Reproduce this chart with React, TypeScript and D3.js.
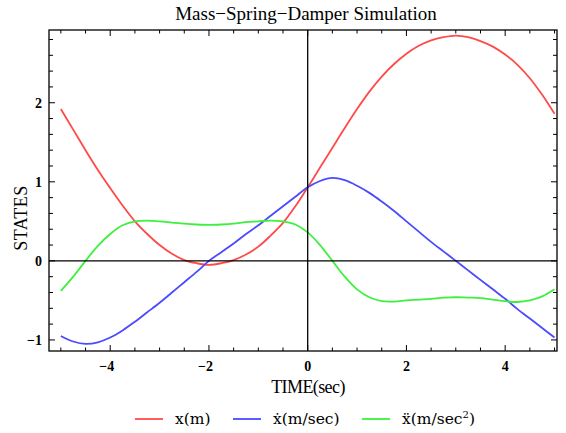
import { useEffect, useRef } from 'react'
import * as d3 from 'd3'

const W = 566
const H = 433

// plot frame in pixels
const M = { left: 49, right: 557, top: 30, bottom: 351 }

const TITLE = 'Mass\u2212Spring\u2212Damper Simulation'
const X_LABEL = 'TIME(sec)'
const Y_LABEL = 'STATES'

// time samples (sec)
const times = [
  -5, -4.75, -4.5, -4.25, -4, -3.75, -3.5, -3.25, -3, -2.75, -2.5, -2.25, -2, -1.75, -1.5, -1.25, -1, -0.75, -0.5, -0.25,
  0, 0.25, 0.5, 0.75, 1, 1.25, 1.5, 1.75, 2, 2.25, 2.5, 2.75, 3, 3.25, 3.5, 3.75, 4, 4.25, 4.5, 4.75, 5,
]

// x(m)
const position = [
  1.92, 1.66, 1.40, 1.15, 0.92, 0.70, 0.50, 0.34, 0.20, 0.09, 0.01, -0.03, -0.05, -0.03, 0.01, 0.08, 0.18, 0.32, 0.48, 0.69,
  0.93, 1.18, 1.43, 1.68, 1.92, 2.14, 2.33, 2.49, 2.62, 2.72, 2.79, 2.83, 2.85, 2.83, 2.78, 2.71, 2.61, 2.48, 2.31, 2.10, 1.86,
]

// xdot(m/sec)
const velocity = [
  -0.95, -1.02, -1.05, -1.03, -0.97, -0.88, -0.77, -0.65, -0.53, -0.40, -0.27, -0.14, 0.0, 0.11, 0.22, 0.34, 0.45, 0.57, 0.69, 0.81,
  0.93, 1.01, 1.05, 1.02, 0.95, 0.86, 0.75, 0.63, 0.50, 0.37, 0.24, 0.12, 0.0, -0.12, -0.24, -0.36, -0.48, -0.61, -0.73, -0.85, -0.97,
]

// xddot(m/sec^2)
const accel = [
  -0.38, -0.2, 0.0, 0.19, 0.34, 0.45, 0.50, 0.51, 0.50, 0.485, 0.47, 0.46, 0.455, 0.46, 0.47, 0.49, 0.50, 0.51, 0.50, 0.46,
  0.36, 0.2, 0.0, -0.2, -0.36, -0.46, -0.51, -0.515, -0.50, -0.49, -0.48, -0.465, -0.46, -0.465, -0.47, -0.49, -0.51, -0.52, -0.50, -0.45, -0.36,
]

const seriesNames = ['x(m)', '\u1E8B(m/sec)', '\u1E8D(m/sec']
const seriesColors = ['#ff4a4a', '#4a4aff', '#3ef03e']
const seriesValues = [position, velocity, accel]

const xMajor = [-4, -2, 0, 2, 4]
const yMajor = [-1, 0, 1, 2]

export default function App() {
  const svgRef = useRef<SVGSVGElement>(null)

  useEffect(() => {
    if (!svgRef.current) return
    const svg = d3.select(svgRef.current)
    svg.selectAll('*').remove()

    const x = d3.scaleLinear().domain([-5.24, 5.05]).range([M.left, M.right])
    const y = d3.scaleLinear().domain([-1.14, 2.92]).range([M.bottom, M.top])

    svg.append('rect').attr('width', W).attr('height', H).attr('fill', '#fff')

    // curves
    const line = d3.line<number>()
      .x((_, i) => x(times[i]))
      .y(d => y(d))
      .curve(d3.curveCatmullRom.alpha(0.5))

    seriesValues.forEach((vals, k) => {
      svg.append('path').attr('d', line(vals))
        .attr('fill', 'none').attr('stroke', seriesColors[k])
        .attr('stroke-width', 1.8).attr('stroke-linejoin', 'round')
    })

    // axes through origin
    svg.append('line').attr('x1', M.left).attr('x2', M.right)
      .attr('y1', y(0)).attr('y2', y(0)).attr('stroke', '#000').attr('stroke-width', 1.3)
    svg.append('line').attr('x1', x(0)).attr('x2', x(0))
      .attr('y1', M.top).attr('y2', M.bottom).attr('stroke', '#000').attr('stroke-width', 1.3)

    // frame
    svg.append('rect').attr('x', M.left).attr('y', M.top)
      .attr('width', M.right - M.left).attr('height', M.bottom - M.top)
      .attr('fill', 'none').attr('stroke', '#000').attr('stroke-width', 1.3)

    // ticks
    const tg = svg.append('g').attr('stroke', '#000').attr('stroke-width', 1)
    const xTicks = d3.range(-5, 5.01, 0.5)
    xTicks.forEach(t => {
      const len = xMajor.includes(t) ? 6 : 3.5
      const px = x(t)
      tg.append('line').attr('x1', px).attr('x2', px).attr('y1', M.bottom).attr('y2', M.bottom - len)
      tg.append('line').attr('x1', px).attr('x2', px).attr('y1', M.top).attr('y2', M.top + len)
    })
    const yTicks = d3.range(-1, 2.81, 0.2).map(v => Math.round(v * 10) / 10)
    yTicks.forEach(v => {
      const len = yMajor.includes(v) ? 6 : 4
      const py = y(v)
      tg.append('line').attr('x1', M.left).attr('x2', M.left + len).attr('y1', py).attr('y2', py)
      tg.append('line').attr('x1', M.right).attr('x2', M.right - len).attr('y1', py).attr('y2', py)
    })

    const fmt = (v: number) => (v < 0 ? '\u2212' + Math.abs(v) : String(v))
    const serif = '"Liberation Serif", "Times New Roman", serif'

    svg.append('g').selectAll('text').data(xMajor).join('text')
      .attr('x', d => x(d) - (d < 0 ? 3.5 : 0)).attr('y', 371)
      .attr('text-anchor', 'middle').attr('font-family', serif)
      .attr('font-size', 14).attr('font-weight', 'bold')
      .text(fmt)

    svg.append('g').selectAll('text').data(yMajor).join('text')
      .attr('x', 42).attr('y', d => y(d) + 5)
      .attr('text-anchor', 'end').attr('font-family', serif)
      .attr('font-size', 14).attr('font-weight', 'bold')
      .text(fmt)

    // title and axis labels
    svg.append('text').attr('x', 306).attr('y', 20)
      .attr('text-anchor', 'middle').attr('font-family', serif).attr('font-size', 19)
      .text(TITLE)

    svg.append('text').attr('x', 308).attr('y', 393)
      .attr('text-anchor', 'middle').attr('font-family', serif).attr('font-size', 18)
      .attr('letter-spacing', -0.6)
      .text(X_LABEL)

    svg.append('text').attr('transform', 'translate(27,218) rotate(-90)')
      .attr('text-anchor', 'middle').attr('font-family', serif).attr('font-size', 18)
      .attr('letter-spacing', 0.5)
      .text(Y_LABEL)

    // legend
    const legendX = [135, 233, 362]
    const lg = svg.append('g')
    seriesNames.forEach((name, k) => {
      const lx = legendX[k]
      lg.append('line').attr('x1', lx).attr('x2', lx + 28).attr('y1', 419).attr('y2', 419)
        .attr('stroke', seriesColors[k]).attr('stroke-width', 1.8)
      const t = lg.append('text').attr('x', lx + 40).attr('y', 424)
        .attr('font-family', '"DejaVu Serif", serif').attr('font-size', 15.5)
        .text(name)
      if (k === 2) {
        t.append('tspan').attr('dy', -6).attr('font-size', 10).text('2')
        t.append('tspan').attr('dy', 6).text(')')
      }
    })
  }, [])

  return (
    <svg ref={svgRef} width={W} height={H}
      style={{ position: 'absolute', left: 0, top: 0, display: 'block' }} />
  )
}
